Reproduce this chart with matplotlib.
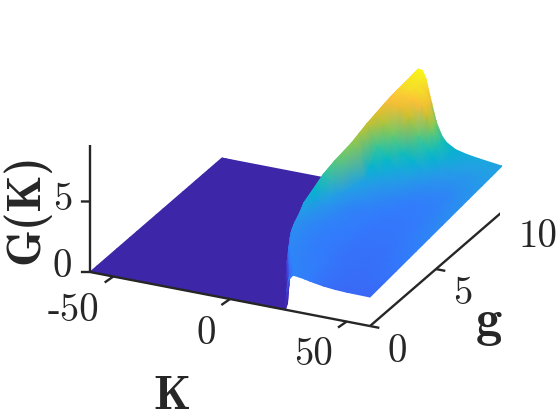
import numpy as np
import matplotlib
matplotlib.use("Agg")
import matplotlib.pyplot as plt
from matplotlib.colors import LinearSegmentedColormap
from mpl_toolkits.mplot3d import proj3d

g_nodes = [0, 0.5, 1.1, 2, 3, 3.5, 4, 4.5, 5, 5.5, 6, 7, 7.5, 8, 8.5, 9, 9.25, 9.5, 10]

# each row follows the edge of the step: foot, rise, crest, then down to K_tail
K_rise = [
    [23.7, 24.3, 25, 27, 28, 29, 29.5],
    [21.8, 22.4, 23, 24.5, 26, 27.5, 29],
    [18, 18.6, 19.2, 20, 22.5, 25, 27.5],
    [12.5, 13.2, 13.8, 14.5, 18, 22, 26],
    [7.8, 8.4, 9, 9.5, 14, 20, 25],
    [6.2, 6.8, 7.4, 8, 13, 19, 25],
    [5.2, 5.8, 6.4, 7, 12, 18, 24],
    [4.5, 5.1, 5.7, 6.3, 11, 18, 24],
    [5.5, 6.1, 6.8, 7.5, 11, 18, 24],
    [7, 7.6, 8.3, 9, 12, 18, 24],
    [8.8, 9.4, 10.2, 11, 14, 19, 25],
    [10.2, 10.9, 11.7, 12.5, 18, 22, 26],
    [10.6, 11.3, 12.2, 13, 18, 22, 26],
    [11, 11.8, 12.7, 13.5, 18, 22, 26],
    [11.5, 12.4, 13.5, 14.5, 18, 22, 26],
    [12, 13, 14.3, 15.5, 18, 22, 26],
    [12.2, 13.4, 14.9, 16.2, 18, 22, 26],
    [12.5, 13.8, 15.5, 17, 18.5, 22, 26],
    [13, 15, 18, 24.2, 26, 27.5, 28.5],
]
G_rise = [
    [0, 1.3, 2.14, 2.55, 2.54, 2.52, 2.51],
    [0, 1.3, 2.2, 2.52, 2.52, 2.5, 2.48],
    [0, 1.3, 2.2, 2.53, 2.52, 2.48, 2.44],
    [0, 1.4, 2.3, 2.65, 2.56, 2.46, 2.38],
    [0, 1.4, 2.4, 2.75, 2.6, 2.45, 2.36],
    [0, 1.5, 2.5, 2.85, 2.62, 2.46, 2.36],
    [0, 1.6, 2.7, 3.0, 2.7, 2.5, 2.38],
    [0, 1.8, 3.0, 3.4, 2.85, 2.55, 2.42],
    [0, 2.0, 3.5, 4.0, 3.0, 2.6, 2.45],
    [0, 2.2, 4.1, 4.7, 3.2, 2.65, 2.45],
    [0, 2.4, 4.6, 5.3, 3.1, 2.75, 2.55],
    [0, 2.6, 5.1, 5.8, 3.3, 3.05, 2.85],
    [0, 2.7, 5.4, 6.1, 3.9, 3.4, 3.1],
    [0, 2.8, 5.6, 6.4, 4.9, 4.1, 3.5],
    [0, 2.9, 6.0, 6.75, 6.1, 5.4, 4.3],
    [0, 3.0, 6.3, 7.1, 7.2, 7.0, 6.4],
    [0, 3.2, 6.5, 7.3, 7.65, 7.6, 7.4],
    [0, 3.5, 6.6, 7.5, 7.8, 8.1, 8.2],
    [0, 4.8, 7.7, 9.0, 8.95, 8.4, 7.7],
]
K_tail = [30, 32, 34, 36, 40, 45, 50, 60]
G_tail = [
    [2.5, 2.44, 2.37, 2.31, 2.2, 2.12, 2.08, 2.06],
    [2.47, 2.4, 2.33, 2.28, 2.2, 2.13, 2.1, 2.12],
    [2.42, 2.36, 2.3, 2.26, 2.2, 2.15, 2.13, 2.19],
    [2.34, 2.3, 2.27, 2.24, 2.2, 2.18, 2.18, 2.3],
    [2.32, 2.28, 2.26, 2.24, 2.22, 2.22, 2.25, 2.42],
    [2.33, 2.29, 2.27, 2.25, 2.24, 2.25, 2.28, 2.48],
    [2.34, 2.3, 2.28, 2.27, 2.26, 2.28, 2.31, 2.54],
    [2.36, 2.32, 2.3, 2.28, 2.27, 2.3, 2.34, 2.6],
    [2.38, 2.35, 2.32, 2.3, 2.29, 2.32, 2.37, 2.66],
    [2.4, 2.37, 2.34, 2.32, 2.31, 2.35, 2.41, 2.72],
    [2.45, 2.41, 2.38, 2.35, 2.34, 2.38, 2.45, 2.78],
    [2.7, 2.62, 2.56, 2.5, 2.44, 2.46, 2.52, 2.9],
    [2.95, 2.85, 2.75, 2.65, 2.55, 2.52, 2.58, 2.96],
    [3.25, 3.1, 2.95, 2.85, 2.72, 2.65, 2.7, 3.02],
    [3.9, 3.65, 3.45, 3.25, 2.95, 2.82, 2.85, 3.08],
    [5.2, 4.9, 4.3, 3.9, 3.25, 3.05, 3.0, 3.14],
    [7.1, 6.5, 5.4, 4.4, 3.5, 3.2, 3.1, 3.17],
    [8.0, 7.4, 5.8, 4.5, 3.7, 3.35, 3.2, 3.2],
    [6.7, 5.4, 4.65, 4.2, 3.8, 3.6, 3.47, 3.26],
]
K_min = -60

K_ticks = [-50, 0, 50]
g_ticks = [0, 5, 10]
G_ticks = [0, 5]

parula_colors = [
    (0.2422, 0.1504, 0.6603), (0.2803, 0.2782, 0.9221), (0.1963, 0.4847, 0.9892),
    (0.1380, 0.6276, 0.8973), (0.0036, 0.7203, 0.7917), (0.1938, 0.7758, 0.6251),
    (0.5044, 0.7993, 0.3480), (0.8203, 0.7498, 0.1535), (0.9956, 0.7434, 0.2371),
    (0.9610, 0.8890, 0.1537), (0.9769, 0.9839, 0.0805),
]
parula = LinearSegmentedColormap.from_list("parula", parula_colors, N=256)

axis_color = "#262626"

fig = plt.figure(figsize=(5.6, 4.2), dpi=100)
ax = fig.add_axes([0, 0, 1, 1], projection="3d", proj_type="ortho", zorder=1)
ax.set_xlim(-60, 60)
ax.set_ylim(0, 10)
ax.set_zlim(0, 9)
ax.view_init(elev=24.1, azim=-64.7)
box = (309.6, 308.6, 139)
ax.set_box_aspect(box, zoom=1)
ax.set_axis_off()
ax.patch.set_visible(False)


def to_px(k, g, z):
    x, y, _ = proj3d.proj_transform(np.ravel(k), np.ravel(g), np.ravel(z), ax.get_proj())
    return ax.transData.transform(np.column_stack([x, y])).reshape(np.shape(k) + (2,))


# scale and shift the box so its corner lands where the reference has it
fig.canvas.draw()
a = to_px(-60.0, 0.0, 0.0)
b = to_px(60.0, 0.0, 0.0)
ax.set_box_aspect(box, zoom=280 / (b[0] - a[0]))
fig.canvas.draw()
a = to_px(-60.0, 0.0, 0.0)
ax.set_position([(90 - a[0]) / 560, (148 - a[1]) / 420, 1, 1])
fig.canvas.draw()

# surface, far rows first so the near ones paint over them
n_rows = len(g_nodes)
K_grid = np.hstack([np.full((n_rows, 1), K_min), np.array(K_rise), np.tile(K_tail, (n_rows, 1))])
g_grid = np.tile(np.array(g_nodes)[:, None], (1, K_grid.shape[1]))
G_grid = np.hstack([np.zeros((n_rows, 1)), np.array(G_rise), np.array(G_tail)])
px = to_px(K_grid, g_grid, G_grid)

ov = fig.add_axes([0, 0, 1, 1], zorder=0)
ov.set_xlim(0, 560)
ov.set_ylim(0, 420)
ov.axis("off")
ov.pcolormesh(px[::-1, :, 0], px[::-1, :, 1], G_grid[::-1], shading="gouraud",
              cmap=parula, vmin=0.7, vmax=9)

# axis lines and ticks
line = dict(color=axis_color, lw=1.7, solid_capstyle="butt")
ax.plot([-60, 60], [0, 0], [0, 0], **line)
ax.plot([60, 60], [0, 10], [0, 0], **line)
ax.plot([-60, -60], [0, 0], [0, 9], **line)
for t in K_ticks:
    ax.plot([t, t - 0.6], [0, -0.55], [0, 0], **line)
for t in g_ticks:
    ax.plot([60, 64], [t, t], [0, 0], **line)
for t in G_ticks:
    ax.plot([-60, -63.2], [0, -0.125], [t, t], **line)


def label(x, y, s, **kw):
    fig.text(x / 560, 1 - y / 420, s, ha="center", va="center", color=axis_color, **kw)


num = dict(family="cmr10", fontsize=28)
for t, pos in zip(K_ticks, [(73, 311), (206, 334), (314, 355)]):
    label(pos[0], pos[1], str(t), **num)
for t, pos in zip(g_ticks, [(397, 352), (463, 294), (538, 237)]):
    label(pos[0], pos[1], str(t), **num)
for t, pos in zip(G_ticks, [(62, 267), (63, 200)]):
    label(pos[0], pos[1], str(t), **num)

bold = dict(family="cmb10", fontsize=34)
label(172, 397, "K", **bold)
label(489, 323, "g", family="cmb10", fontsize=38)
label(26, 209, "G(K)", rotation=90, **bold)

fig.savefig("out.png", dpi=100)
